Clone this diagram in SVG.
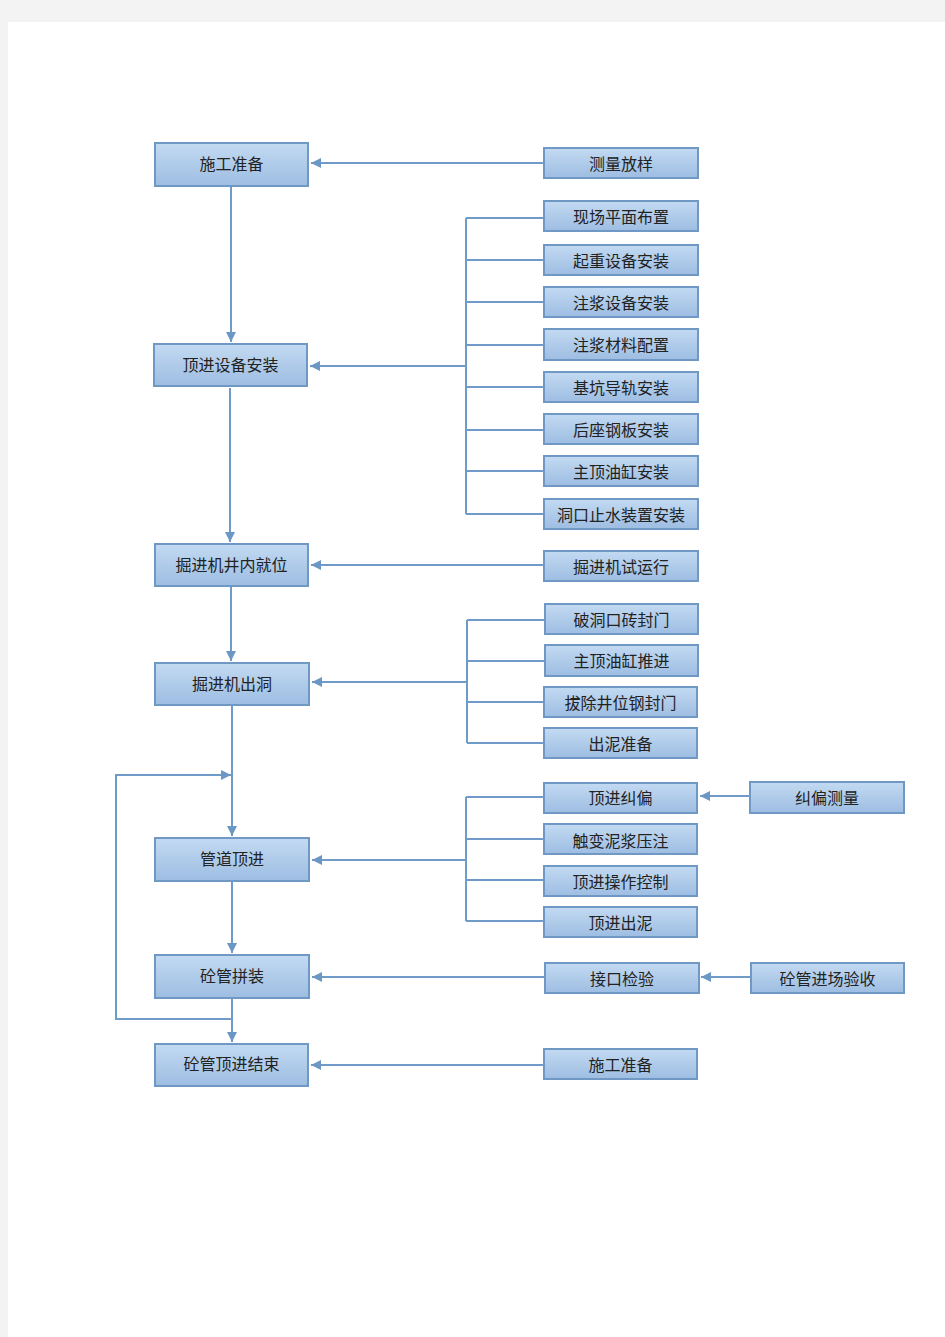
<svg xmlns="http://www.w3.org/2000/svg" width="945" height="1337" viewBox="0 0 945 1337">
<defs>
<linearGradient id="g" x1="0" y1="0" x2="0" y2="1">
<stop offset="0" stop-color="#c3daf2"/>
<stop offset="1" stop-color="#9dbde2"/>
</linearGradient>
<marker id="a" viewBox="0 0 10 10" refX="10" refY="5" markerWidth="5" markerHeight="5" orient="auto" markerUnits="strokeWidth">
<path d="M0,0 L10,5 L0,10 z" fill="#6b97c4"/>
</marker>
<style>
.b{fill:url(#g);stroke:#6f98c4;stroke-width:2}
.t{font-family:"Noto Sans CJK SC",sans-serif;font-size:16px;fill:#222;text-anchor:middle;dominant-baseline:central}
.c{fill:none;stroke:#6f9bc8;stroke-width:2}
.c2{fill:none;stroke:#6f9bc8;stroke-width:2;marker-end:url(#a)}
</style>
</defs>
<rect width="945" height="1337" fill="#f3f3f3"/>
<rect x="8" y="22" width="937" height="1315" fill="#fff"/>
<g id="connectors">
<path class="c2" d="M544,163 H311"/>
<path class="c2" d="M231,187 V342"/>
<path class="c" d="M466,218 V514 M466,218 H544 M466,260 H544 M466,302 H544 M466,345 H544 M466,387 H544 M466,430 H544 M466,471 H544 M466,514 H544"/>
<path class="c2" d="M466,366 H310"/>
<path class="c2" d="M230,388 V542"/>
<path class="c2" d="M544,565 H311"/>
<path class="c2" d="M231,587 V661"/>
<path class="c" d="M467,620 V743 M467,620 H545 M467,661 H545 M467,702 H544 M467,743 H544"/>
<path class="c2" d="M467,682 H312"/>
<path class="c2" d="M232,706 V836"/>
<path class="c2" d="M232,1019 H116 V775 H231"/>
<path class="c" d="M466,797 V921 M466,797 H544 M466,839 H544 M466,880 H544 M466,921 H544"/>
<path class="c2" d="M466,860 H312"/>
<path class="c2" d="M750,796 H700"/>
<path class="c2" d="M232,882 V953"/>
<path class="c2" d="M545,977 H312"/>
<path class="c2" d="M751,977 H701"/>
<path class="c2" d="M232,999 V1042"/>
<path class="c2" d="M544,1065 H311"/>
</g>
<g id="n1"><rect class="b" x="155" y="143" width="153" height="43"/><text class="t" x="231.5" y="163">施工准备</text></g>
<g id="n2"><rect class="b" x="154" y="344" width="153" height="42"/><text class="t" x="230.5" y="364">顶进设备安装</text></g>
<g id="n3"><rect class="b" x="155" y="544" width="153" height="42"/><text class="t" x="231.5" y="564">掘进机井内就位</text></g>
<g id="n4"><rect class="b" x="155" y="663" width="154" height="42"/><text class="t" x="232" y="683">掘进机出洞</text></g>
<g id="n5"><rect class="b" x="155" y="838" width="154" height="43"/><text class="t" x="232" y="858">管道顶进</text></g>
<g id="n6"><rect class="b" x="155" y="955" width="154" height="43"/><text class="t" x="232" y="975">砼管拼装</text></g>
<g id="n7"><rect class="b" x="155" y="1044" width="153" height="42"/><text class="t" x="231.5" y="1063">砼管顶进结束</text></g>
<g id="r1"><rect class="b" x="544" y="148" width="154" height="30"/><text class="t" x="621" y="163">测量放样</text></g>
<g id="r2"><rect class="b" x="544" y="201" width="154" height="30"/><text class="t" x="621" y="216">现场平面布置</text></g>
<g id="r3"><rect class="b" x="544" y="245" width="154" height="30"/><text class="t" x="621" y="260">起重设备安装</text></g>
<g id="r4"><rect class="b" x="544" y="287" width="154" height="30"/><text class="t" x="621" y="302">注浆设备安装</text></g>
<g id="r5"><rect class="b" x="544" y="329" width="154" height="31"/><text class="t" x="621" y="344">注浆材料配置</text></g>
<g id="r6"><rect class="b" x="544" y="372" width="154" height="30"/><text class="t" x="621" y="387">基坑导轨安装</text></g>
<g id="r7"><rect class="b" x="544" y="414" width="154" height="30"/><text class="t" x="621" y="429">后座钢板安装</text></g>
<g id="r8"><rect class="b" x="544" y="456" width="154" height="30"/><text class="t" x="621" y="471">主顶油缸安装</text></g>
<g id="r9"><rect class="b" x="544" y="499" width="154" height="30"/><text class="t" x="621" y="514">洞口止水装置安装</text></g>
<g id="r10"><rect class="b" x="544" y="551" width="154" height="30"/><text class="t" x="621" y="566">掘进机试运行</text></g>
<g id="r11"><rect class="b" x="545" y="604" width="153" height="30"/><text class="t" x="621.5" y="619">破洞口砖封门</text></g>
<g id="r12"><rect class="b" x="545" y="645" width="153" height="31"/><text class="t" x="621.5" y="660">主顶油缸推进</text></g>
<g id="r13"><rect class="b" x="544" y="687" width="153" height="30"/><text class="t" x="620.5" y="702">拔除井位钢封门</text></g>
<g id="r14"><rect class="b" x="544" y="728" width="153" height="30"/><text class="t" x="620.5" y="743">出泥准备</text></g>
<g id="r15"><rect class="b" x="544" y="783" width="153" height="30"/><text class="t" x="620.5" y="797">顶进纠偏</text></g>
<g id="r16"><rect class="b" x="544" y="824" width="153" height="30"/><text class="t" x="620.5" y="840">触变泥浆压注</text></g>
<g id="r17"><rect class="b" x="544" y="866" width="153" height="30"/><text class="t" x="620.5" y="881">顶进操作控制</text></g>
<g id="r18"><rect class="b" x="544" y="907" width="153" height="30"/><text class="t" x="620.5" y="922">顶进出泥</text></g>
<g id="r19"><rect class="b" x="545" y="963" width="154" height="30"/><text class="t" x="622" y="978">接口检验</text></g>
<g id="r20"><rect class="b" x="544" y="1049" width="153" height="30"/><text class="t" x="620.5" y="1064">施工准备</text></g>
<g id="r21"><rect class="b" x="750" y="782" width="154" height="31"/><text class="t" x="827" y="797">纠偏测量</text></g>
<g id="r22"><rect class="b" x="751" y="963" width="153" height="30"/><text class="t" x="827.5" y="978">砼管进场验收</text></g>
</svg>
